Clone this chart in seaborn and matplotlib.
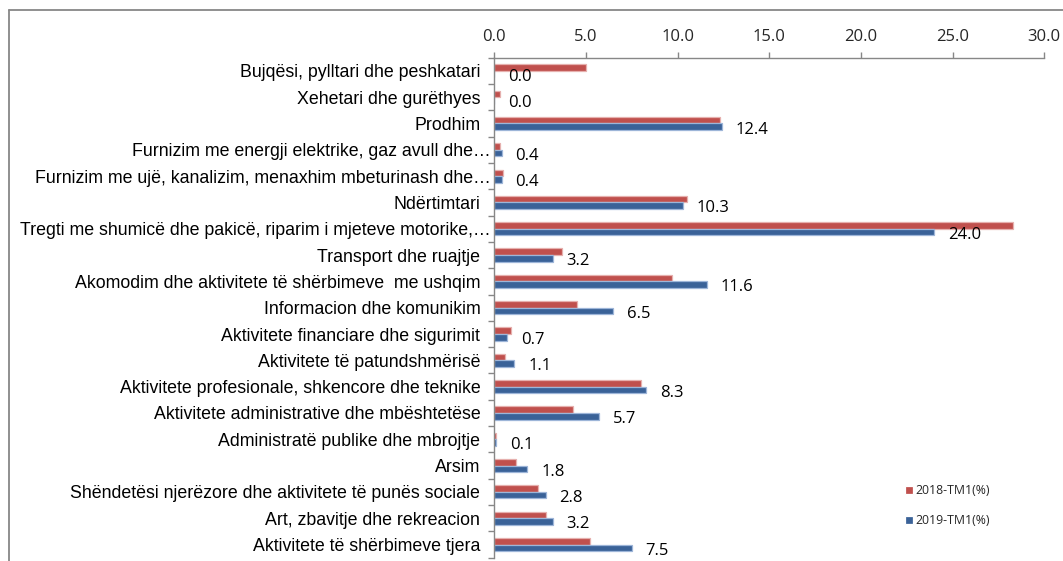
import pandas as pd
import matplotlib.pyplot as plt
import seaborn as sns
from matplotlib.lines import Line2D
from matplotlib.ticker import FixedLocator
from matplotlib import transforms

sns.set_style("white")

categories = [
    "Bujqësi, pylltari dhe peshkatari",
    "Xehetari dhe gurëthyes",
    "Prodhim",
    "Furnizim me energji elektrike, gaz avull dhe…",
    "Furnizim me ujë, kanalizim, menaxhim mbeturinash dhe…",
    "Ndërtimtari",
    "Tregti me shumicë dhe pakicë, riparim i mjeteve motorike,…",
    "Transport dhe ruajtje",
    "Akomodim dhe aktivitete të shërbimeve  me ushqim",
    "Informacion dhe komunikim",
    "Aktivitete financiare dhe sigurimit",
    "Aktivitete të patundshmërisë",
    "Aktivitete profesionale, shkencore dhe teknike",
    "Aktivitete administrative dhe mbështetëse",
    "Administratë publike dhe mbrojtje",
    "Arsim",
    "Shëndetësi njerëzore dhe aktivitete të punës sociale",
    "Art, zbavitje dhe rekreacion",
    "Aktivitete të shërbimeve tjera",
]
series = ["2018-TM1(%)", "2019-TM1(%)"]
values_2018 = [5.0, 0.3, 12.3, 0.3, 0.5, 10.5, 28.3, 3.7, 9.7, 4.5, 0.9, 0.6, 8.0, 4.3, 0.1, 1.2, 2.4, 2.8, 5.2]
values_2019 = [0.0, 0.0, 12.4, 0.4, 0.4, 10.3, 24.0, 3.2, 11.6, 6.5, 0.7, 1.1, 8.3, 5.7, 0.1, 1.8, 2.8, 3.2, 7.5]
x_ticks = [0, 5, 10, 15, 20, 25, 30]

colors = ["#C0504D", "#3A6298"]
edge_colors = ["#E6B0AE", "#9DB5D8"]
grey = "#878787"

df = pd.DataFrame({
    "category": categories * 2,
    "series": [series[0]] * len(categories) + [series[1]] * len(categories),
    "value": values_2018 + values_2019,
})

fig = plt.figure(figsize=(10.63, 5.61), dpi=100)
ax = fig.add_axes([494.3 / 1063, 3.3 / 561, 550 / 1063, 500 / 561])

sns.barplot(data=df, y="category", x="value", hue="series", order=categories,
            hue_order=series, palette=colors, width=0.5, orient="h", ax=ax,
            linewidth=0.9, saturation=1)

for cont, ec in zip(ax.containers, edge_colors):
    for bar in cont:
        bar.set_edgecolor(ec)

# value labels for 2019
for i, v in enumerate(values_2019):
    ax.text(v + 0.75, i + 0.23, f"{v:.1f}", ha="left", va="center",
            fontsize=12, family="Open Sans", color="black")

ax.set_xlim(0, 30)
ax.set_ylim(len(categories) - 0.5, -0.5)
ax.xaxis.set_major_locator(FixedLocator(x_ticks))
ax.set_xticklabels([f"{t:.1f}" for t in x_ticks], family="Open Sans", fontsize=12)
ax.xaxis.tick_top()
ax.tick_params(axis="x", direction="out", length=4.5, width=1, color=grey, pad=5)
ax.tick_params(axis="y", which="major", length=0, labelleft=False)
ax.yaxis.set_minor_locator(FixedLocator([i - 0.5 for i in range(len(categories) + 1)]))
ax.tick_params(axis="y", which="minor", direction="out", length=4.5, width=1, color=grey, left=True)
ax.set_xlabel("")
ax.set_ylabel("")

# category labels (truncated ones sit a bit further right, as in Excel)
trans = ax.get_yaxis_transform()
for i, cat in enumerate(categories):
    shift = -4 if cat.endswith("…") else -14
    t = transforms.offset_copy(trans, fig=fig, x=shift, y=-2, units="dots")
    ax.text(0, i, cat, transform=t, ha="right", va="center",
            family="Liberation Sans", fontsize=12.8, color="black")

for s in ["right", "bottom"]:
    ax.spines[s].set_visible(False)
for s in ["top", "left"]:
    ax.spines[s].set_color(grey)
    ax.spines[s].set_linewidth(1)

handles, labels = ax.get_legend_handles_labels()
ax.legend(handles, labels, loc="upper left", bbox_to_anchor=(905 / 1063, 1 - 484 / 561),
          bbox_transform=fig.transFigure, frameon=False, prop={"family": "Open Sans", "size": 8.8},
          handlelength=0.62, handleheight=0.62, handletextpad=0.25, labelspacing=1.4,
          borderpad=0, borderaxespad=0)

# chart area border
fig.add_artist(Line2D([9.3 / 1063, 1], [1 - 10.3 / 561] * 2, color=grey, lw=1.3, transform=fig.transFigure))
fig.add_artist(Line2D([9.3 / 1063] * 2, [0, 1 - 10.3 / 561], color=grey, lw=1.3, transform=fig.transFigure))

fig.savefig("out.png", dpi=100)
